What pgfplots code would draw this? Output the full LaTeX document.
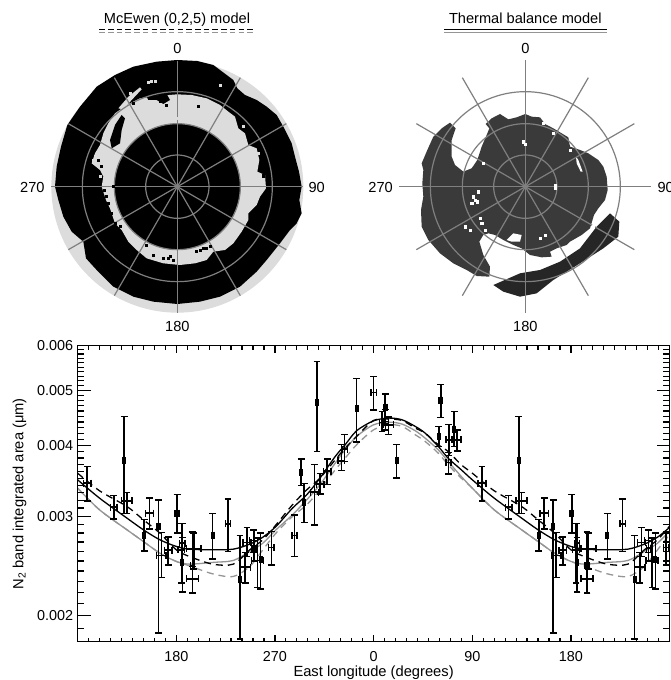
\documentclass[border=0pt]{standalone}
\usepackage{pgfplots}
\usepackage{pgfplotstable}
\usepackage{fontspec}
\setmainfont{Liberation Sans}
\pgfplotsset{compat=1.18}
\definecolor{mapgray}{HTML}{7F7F7F}
\definecolor{lite}{HTML}{DCDCDC}
\definecolor{dark}{HTML}{3A3A3A}
\definecolor{curvegray}{HTML}{959595}
\pgfplotstableread{
lon y top bot xe
98.8 .003431 .003672 .003193 3.6
123.1 .003112 .003259 .002964 3.0
132.5 .003757 .0045 .003029 1.2
134.9 .003193 .003303 .003029 4.9
150.7 .002773 .002956 .002605 1.2
155.6 .003037 .003232 .002845 3.9
163.8 .002877 .003206 .001864 1.2
166.5 .002556 .002807 .002337 4.3
172.6 .002612 .002754 .002461 3.6
180.8 .003037 .003276 .0028 1.8
184.7 .002616 .002908 .002284 3
185.6 .002688 .002908 .002202 2.4
185.6 .002488 .00275 .0022 1.2
194.7 .002451 .002811 .002193 1.8
194.7 .002325 .002444 .002193 5.5
196 .002627 .0028 .002421 6.7
213.2 .002777 .003033 .002519 1.2
227.2 .002908 .003215 .002595 2.4
238.2 .002315 .002773 .001821 1.2
242.8 .002438 .002588 .002284 4.9
244.5 .002695 .002865 .002546 3.6
250.6 .002717 .002834 .002588 3.6
250.9 .002634 .00284 .002495 1.8
253.9 .002505 .002743 .002244 5.5
257 .002512 .0028 .002232 1.2
266.7 .002641 .002819 .002461 2.4
287.9 .002773 .003016 .002546 2.4
294 .003583 .003783 .003394 1.2
296.7 .003176 .003422 .002924 1.2
306.1 .003308 .003697 .002896 3.6
308.3 .004764 .005628 .003903 1.2
311.3 .003417 .003564 .003285 3.6
317.7 .003603 .003783 .003408 3.6
330.6 .003757 .00401 .003613 3
333.6 .00394 .004177 .003747 2.4
344.5 .004649 .005245 .004054 1.2
360 .004962 .005295 .004617 2.4
367.6 .004391 .004592 .004234 2.4
370.6 .004674 .004934 .004362 1.8
371 .004409 .004624 .004262 2.4
373.7 .00435 .004488 .004177 4.5
381 .003757 .00401 .003501 1.2
419.5 .004148 .004321 .003983 1.2
421.3 .004809 .005125 .004482 1.8
428.3 .003732 .003887 .003559 2.4
428.6 .004093 .004356 .003835 2.4
433.5 .004274 .004592 .003983 1.2
436.2 .004093 .004262 .003913 3.6
}\obs
\pgfplotstableread{
lon bs gs bd gd
90 .003478 .003362 .003573 .003362
110 .003228 .003078 .003326 .003078
135 .002976 .002838 .00312 .002838
150 .002838 .002706 .002956 .002706
165 .002725 .002581 .0028 .002581
180 .002652 .002495 .002616 .002495
192 .002623 .002468 .002546 .002451
213 .002616 .002485 .002468 .002373
232 .002623 .002505 .002468 .002347
247 .002677 .002598 .002616 .002444
259 .002754 .002688 .002725 .002616
271 .002877 .002838 .002896 .0028
286 .003099 .003016 .003142 .002996
299 .003272 .003206 .003339 .003142
311 .003501 .003408 .003501 .003339
325 .003824 .003722 .003773 .003622
334 .00401 .003929 .003956 .003798
344.5 .004245 .004148 .004148 .00401
360 .004421 .00435 .004427 .004262
374 .00447 .004397 .004451 .00435
386 .004439 .004362 .004427 .004321
398 .004321 .004245 .004291 .004177
407 .004205 .00412 .004205 .004065
419 .003983 .003929 .00401 .003876
428 .003798 .003747 .003903 .003697
440 .003622 .003525 .003697 .003501
450 .003478 .003362 .003573 .003362
470 .003228 .003078 .003326 .003078
495 .002976 .002838 .00312 .002838
510 .002838 .002706 .002956 .002706
525 .002725 .002581 .0028 .002581
540 .002652 .002495 .002616 .002495
552 .002623 .002468 .002546 .002451
573 .002616 .002485 .002468 .002373
592 .002623 .002505 .002468 .002347
607 .002677 .002598 .002616 .002444
619 .002754 .002688 .002725 .002616
631 .002877 .002838 .002896 .0028
}\curves
\pgfplotsset{
 mapaxis/.style={scale only axis, anchor=south west, hide axis, clip=false,
   ymin=0, ymax=1020, y dir=reverse, height=340pt},
 obsstyle/.style={draw=none, mark=none,
  error bars/.cd, x dir=both, y dir=both, x explicit, y explicit,
  error bar style={line width=1.5pt, black, solid},
  error mark options={black, mark size=3.4pt, line width=1.4pt, rotate=90}},
}
\tikzset{maptxt/.style={font=\fontsize{14.6}{16}\selectfont, inner sep=0pt}}
\newcommand{\gridlines}[2]{%
 \draw[mapgray, line width=1.2pt] (axis cs:#1,#2) circle [radius=95];
 \draw[mapgray, line width=1.2pt] (axis cs:#1,#2) circle [radius=189];
 \draw[mapgray, line width=1.2pt] (axis cs:#1,#2) circle [radius=285];
}
\begin{document}
\begin{tikzpicture}[x=1pt,y=1pt]
\useasboundingbox (0,0) rectangle (671,680);
%% ---------- left map
\begin{axis}[mapaxis, at={(0pt,340pt)}, width=340pt, xmin=0, xmax=1020]
\fill[lite] (axis cs:532,560) circle [radius=378];
\addplot[fill=black,draw=none] coordinates {(532,180)(592,183)(640,195)(680,225)(700,240)(712,265)(735,285)(770,300)(800,320)(830,345)(850,380)(875,430)(885,470)(897,515)(905,560)(898,600)(905,640)(890,670)(870,690)(840,730)(800,780)(770,815)(720,860)(660,890)(600,905)(532,912)(460,905)(400,890)(340,860)(290,810)(258,775)(250,725)(215,695)(190,650)(175,600)(165,560)(170,500)(183,440)(202,375)(240,320)(290,260)(345,225)(400,200)(470,185)} --cycle;
\addplot[fill=lite,draw=none] coordinates {(532,283)(575,285)(620,295)(660,315)(685,335)(705,350)(715,385)(735,400)(745,435)(770,445)(778,480)(772,515)(795,525)(798,565)(780,590)(770,615)(745,640)(745,660)(725,695)(700,730)(675,750)(640,755)(620,780)(585,790)(540,795)(490,790)(440,775)(410,750)(385,725)(365,690)(345,670)(330,625)(318,600)(305,560)(310,530)(300,510)(275,490)(285,460)(300,435)(310,400)(325,370)(345,340)(380,315)(420,295)(470,288)} --cycle;
\addplot[fill=black,draw=none] coordinates {(365,345)(345,375)(330,420)(335,445)(360,430)(365,390)(375,355)} --cycle;
\addplot[fill=black,draw=none] coordinates {(440,290)(470,287)(500,282)(510,300)(490,312)(470,300)(445,300)} --cycle;
\addplot[fill=lite,draw=none] coordinates {(355,325)(385,290)(420,262)(425,268)(395,300)(370,328)} --cycle;
\addplot[only marks, mark=square*, mark size=1pt, black] coordinates {(312,570)(318,590)(325,610)(340,560)(335,640)(790,525)(440,735)(610,745)(630,740)(590,755)(520,780)(490,775)(460,765)(295,480)(305,500)(790,530)(345,670)(360,680)(600,750)(620,745)(510,770)(505,775)(480,305)(500,315)(595,318)(400,310)};
\addplot[only marks, mark=square*, mark size=1pt, lite] coordinates {(455,245)(445,248)(465,243)(530,355)(390,280)(660,255)(285,470)(280,480)(300,530)(295,500)(790,540)(775,460)(730,380)};
\fill[black] (axis cs:532,560) circle [radius=189];
\gridlines{532}{560}
\addplot[mapgray, line width=1.2pt] coordinates {(532,182)(532,938)};
\addplot[mapgray, line width=1.2pt] coordinates {(154,560)(910,560)};
\addplot[mapgray, line width=1.2pt] coordinates {(343,233)(721,887)};
\addplot[mapgray, line width=1.2pt] coordinates {(721,233)(343,887)};
\addplot[mapgray, line width=1.2pt] coordinates {(205,371)(859,749)};
\addplot[mapgray, line width=1.2pt] coordinates {(859,371)(205,749)};
\node[maptxt] at (axis cs:531,58) {McEwen (0,2,5) model};
\addplot[black, line width=1pt, dash pattern=on 5.5pt off 3.2pt] coordinates {(298,88)(765,88)};
\addplot[curvegray, line width=1pt, dash pattern=on 5.5pt off 3.2pt] coordinates {(298,97)(765,97)};
\node[maptxt] at (axis cs:532,145) {0};
\node[maptxt] at (axis cs:532,980) {180};
\node[maptxt] at (axis cs:97,563) {270};
\node[maptxt] at (axis cs:950,563) {90};
\end{axis}
%% ---------- right map
\begin{axis}[mapaxis, at={(340pt,340pt)}, width=331pt, xmin=0, xmax=993]
\addplot[fill=dark,draw=none] coordinates {(556,342)(575,350)(600,352)(615,372)(640,385)(665,400)(685,412)(690,440)(720,450)(745,460)(775,480)(790,500)(800,530)(803,570)(795,600)(775,625)(762,645)(750,685)(725,705)(690,725)(680,735)(650,745)(630,755)(635,770)(605,772)(570,765)(545,745)(520,735)(490,720)(465,705)(445,700)(430,705)(418,725)(430,765)(450,800)(448,830)(410,828)(380,810)(340,790)(300,760)(265,720)(245,680)(243,630)(250,590)(247,550)(250,510)(245,490)(262,450)(280,410)(305,385)(330,368)(347,385)(335,420)(335,470)(345,495)(370,515)(395,505)(412,480)(425,440)(440,405)(448,385)(437,372)(455,355)(480,342)(505,358)(530,352)} --cycle;
\addplot[fill=black!85,draw=none] coordinates {(460,855)(540,820)(600,810)(660,785)(720,745)(770,680)(810,640)(838,665)(835,710)(790,745)(720,790)(640,840)(590,880)(540,890)(490,875)} --cycle;
\addplot[fill=white,draw=none] coordinates {(500,720)(520,700)(545,705)(540,725)(515,725)} --cycle;
\addplot[fill=white,draw=none] coordinates {(708,470)(715,480)(728,515)(722,515)(710,490)} --cycle;
\addplot[only marks, mark=square*, mark size=1.2pt, white] coordinates {(400,590)(405,600)(412,605)(415,575)(395,610)(550,425)(555,432)(645,555)(645,565)(430,490)(420,655)(425,670)(375,680)(390,690)(435,690)(600,715)(615,705)(690,450)(760,680)(750,690)(640,400)(610,370)};
\gridlines{556}{560}
\addplot[mapgray, line width=1.2pt] coordinates {(556,180)(556,938)};
\addplot[mapgray, line width=1.2pt] coordinates {(178,560)(934,560)};
\addplot[mapgray, line width=1.2pt] coordinates {(367,233)(745,887)};
\addplot[mapgray, line width=1.2pt] coordinates {(745,233)(367,887)};
\addplot[mapgray, line width=1.2pt] coordinates {(229,371)(883,749)};
\addplot[mapgray, line width=1.2pt] coordinates {(883,371)(229,749)};
\node[maptxt] at (axis cs:556,56) {Thermal balance model};
\addplot[black, line width=1pt] coordinates {(313,88)(800,88)};
\addplot[curvegray, line width=1pt] coordinates {(313,97)(800,97)};
\node[maptxt] at (axis cs:556,145) {0};
\node[maptxt] at (axis cs:556,980) {180};
\node[maptxt] at (axis cs:122,563) {270};
\node[maptxt,anchor=west] at (axis cs:952,563) {90};
\end{axis}
%% ---------- lower panel
\begin{axis}[scale only axis, at={(77.6pt,38.3pt)}, anchor=south west, width=592pt, height=296pt,
  xmin=90, xmax=630, ymode=log, ymin=.0018, ymax=.006,
  xtick={90,180,270,360,450,540,630}, xticklabels={,180,270,0,90,180,},
  minor x tick num=8, ytick=\empty,
  tick align=inside, major tick length=7pt, minor tick length=4pt,
  tick style={black, line width=1.2pt}, axis line style={line width=1.3pt},
  tick label style={font=\fontsize{14.4}{16}\selectfont},
  xticklabel style={yshift=-6pt},
  xlabel={East longitude (degrees)}, xlabel style={font=\fontsize{14.7}{16}\selectfont, at={(axis description cs:0.5,0)}, anchor=north, yshift=-24pt, inner sep=0pt},
]
\addplot[black, line width=1.3pt, smooth] table[x=lon,y=bs] {\curves};
\addplot[curvegray, line width=1.3pt, smooth] table[x=lon,y=gs] {\curves};
\addplot[black, line width=1.3pt, smooth, dash pattern=on 7pt off 5pt] table[x=lon,y=bd] {\curves};
\addplot[curvegray, line width=1.3pt, smooth, dash pattern=on 7pt off 5pt] table[x=lon,y=gd] {\curves};
\addplot[obsstyle] table[x=lon, y=y, x error=xe, y error plus expr=\thisrow{top}-\thisrow{y}, y error minus expr=\thisrow{y}-\thisrow{bot}] {\obs};
\addplot[obsstyle] table[x expr=\thisrow{lon}+360, y=y, x error=xe, y error plus expr=\thisrow{top}-\thisrow{y}, y error minus expr=\thisrow{y}-\thisrow{bot}] {\obs};
\end{axis}
\begin{axis}[scale only axis, at={(77.6pt,38.3pt)}, anchor=south west, width=592pt, height=296pt,
  xmin=90, xmax=630, ymode=log, ymin=.0018, ymax=.006, xtick=\empty, 
  ytick={.002,.003,.004,.005,.006}, yticklabels={0.002,0.003,0.004,0.005,0.006},
  minor ytick={.0018,.0019,.0021,.0022,.0023,.0024,.0025,.0026,.0027,.0028,.0029,.0031,.0032,.0033,.0034,.0035,.0036,.0037,.0038,.0039,.0041,.0042,.0043,.0044,.0045,.0046,.0047,.0048,.0049,.0051,.0052,.0053,.0054,.0055,.0056,.0057,.0058,.0059},
  tick align=inside, major tick length=13pt, minor tick length=6.5pt,
  tick style={black, line width=1.2pt}, axis line style={line width=1.3pt},
  tick label style={font=\fontsize{14.4}{16}\selectfont},
  yticklabel style={xshift=-1pt},
  ylabel={N\textsubscript{2} band integrated area (μm)}, ylabel style={font=\fontsize{14.7}{16}\selectfont, at={(axis description cs:0,0.5)}, anchor=south, yshift=51pt, inner sep=0pt},
]
\end{axis}
\end{tikzpicture}
\end{document}
